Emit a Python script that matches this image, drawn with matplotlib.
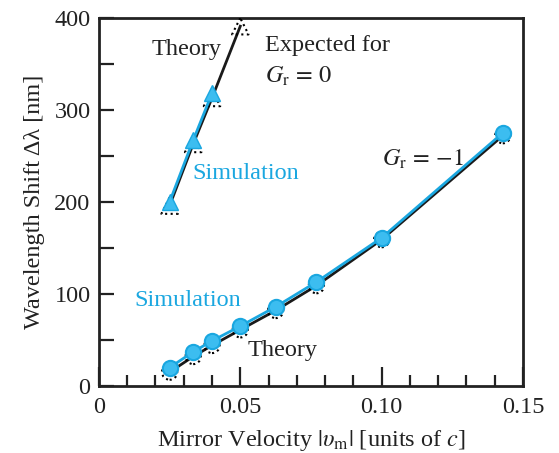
import matplotlib
matplotlib.use('Agg')
import matplotlib.pyplot as plt
from matplotlib.ticker import MultipleLocator, FixedLocator

plt.rcParams['font.family'] = ['Liberation Serif', 'DejaVu Serif']
plt.rcParams['mathtext.fontset'] = 'stix'

# Gr = 0 (triangles)
v_g0_theory = [0.025, 1 / 30, 0.04, 0.05]
dl_g0_theory = [196, 263, 313, 391]
v_g0_sim = [0.025, 1 / 30, 0.04]
dl_g0_sim = [200, 267, 318]

# Gr = -1 (circles)
v_g1 = [1 / 40, 1 / 30, 1 / 25, 1 / 20, 1 / 16, 1 / 13, 1 / 10, 1 / 7]
dl_g1_theory = [15, 32, 44, 61, 82, 109, 159, 272]
dl_g1_sim = [20, 37, 49, 65, 86, 113, 161, 275]

blue_line = '#1AA7E0'
blue_face = '#3CBDF0'
ink = '#222222'

fig = plt.figure(figsize=(5.59, 4.53), dpi=100)
ax = fig.add_axes([0.177, 0.148, 0.7585, 0.8124])

# theory lines and dotted markers
ax.plot(v_g0_theory, dl_g0_theory, color='#1a1a1a', lw=2.0, zorder=2)
ax.plot(v_g1, dl_g1_theory, color='#1a1a1a', lw=2.0, zorder=2)
ax.scatter(v_g0_theory, dl_g0_theory, marker='^', s=140, facecolors='none',
           edgecolors='k', linestyles=':', linewidths=1.5, zorder=3)
ax.scatter(v_g1, dl_g1_theory, marker='o', s=120, facecolors='none',
           edgecolors='k', linestyles=':', linewidths=1.5, zorder=3)

# simulation
ax.plot(v_g0_sim, dl_g0_sim, color=blue_line, lw=2.0, marker='^', ms=12,
        mfc=blue_face, mec=blue_line, zorder=4)
ax.plot(v_g1, dl_g1_sim, color=blue_line, lw=2.0, marker='o', ms=11,
        mfc=blue_face, mec=blue_line, mew=1.5, zorder=4)

# annotations
fs = 17.5
ax.text(0.0187, 366, 'Theory', fontsize=fs, color=ink, ha='left', va='center')
ax.text(0.0587, 370, 'Expected for', fontsize=fs, color=ink, ha='left', va='center')
ax.text(0.0587, 337, r'$G_{\mathrm{r}}\,=\,0$', fontsize=fs, color=ink, ha='left', va='center')
ax.text(0.0329, 231, 'Simulation', fontsize=fs, color=blue_line, ha='left', va='center')
ax.text(0.1000, 246, r'$G_{\mathrm{r}}\,=\,{-1}$', fontsize=fs, color=ink, ha='left', va='center')
ax.text(0.0127, 93, 'Simulation', fontsize=fs, color=blue_line, ha='left', va='center')
ax.text(0.0527, 39, 'Theory', fontsize=fs, color=ink, ha='left', va='center')

ax.set_xlim(0, 0.15)
ax.set_ylim(0, 400)
ax.xaxis.set_major_locator(FixedLocator([0, 0.05, 0.10, 0.15]))
ax.set_xticklabels(['0', '0.05', '0.10', '0.15'])
ax.xaxis.set_minor_locator(MultipleLocator(0.01))
ax.yaxis.set_major_locator(MultipleLocator(100))
ax.yaxis.set_minor_locator(MultipleLocator(50))
ax.tick_params(which='both', direction='in', labelsize=fs, width=1.6, colors=ink)
ax.tick_params(axis='x', which='major', length=14, pad=8)
ax.tick_params(axis='x', which='minor', length=8)
ax.tick_params(axis='y', which='both', length=11, pad=6)

for sp in ax.spines.values():
    sp.set_linewidth(2.0)
    sp.set_color(ink)

ax.set_xlabel(r'Mirror Velocity $|\upsilon_{\mathrm{m}}|$ [units of $c$]', fontsize=fs, labelpad=7, color=ink)
ax.set_ylabel('Wavelength Shift Δλ [nm]', fontsize=fs, labelpad=7, color=ink)

plt.savefig('out.png', dpi=100)
